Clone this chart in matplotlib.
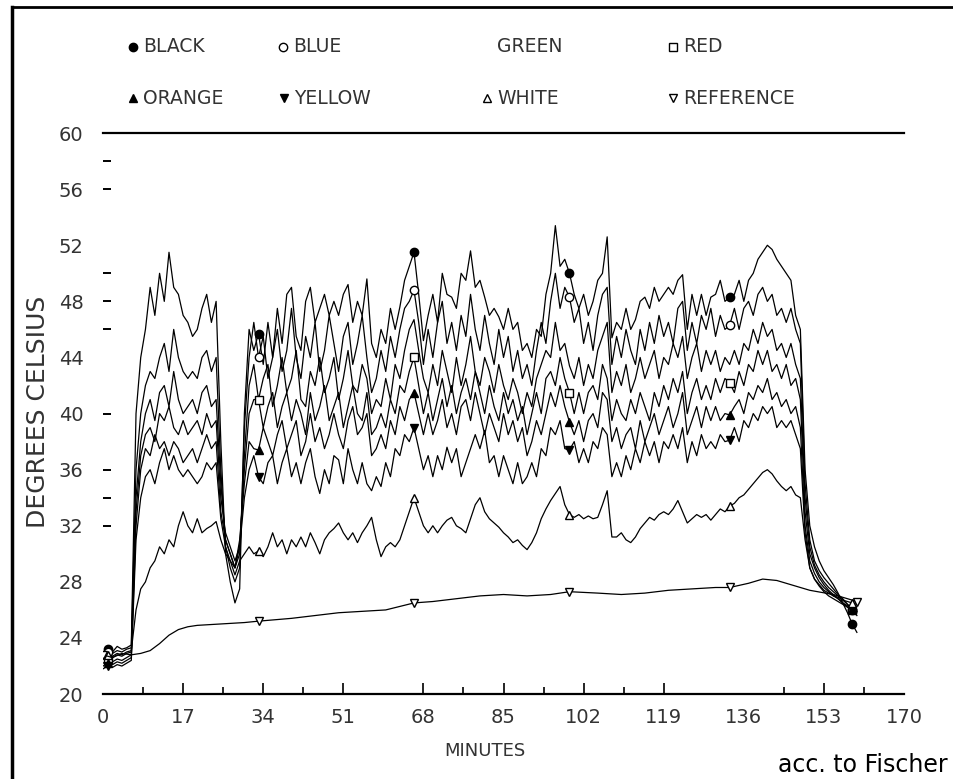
import matplotlib
matplotlib.use('Agg')
import matplotlib.pyplot as plt
from matplotlib.lines import Line2D

# sampling grid, one reading per minute
minutes = list(range(0, 161))

black = [
    23.0, 23.2, 23.0, 23.4, 23.2, 23.3, 23.5, 40.0, 44.0, 46.0,
    49.0, 47.0, 50.0, 48.0, 51.5, 49.0, 48.5, 47.0, 46.5, 45.5,
    46.0, 47.5, 48.5, 46.5, 48.0, 38.0, 30.0, 28.0, 26.5, 27.5,
    40.0, 46.0, 44.5, 45.7, 43.5, 46.5, 44.0, 47.5, 45.0, 48.5,
    49.0, 45.5, 44.5, 48.0, 49.0, 46.5, 47.5, 48.5, 47.0, 48.0,
    47.0, 48.5, 49.2, 46.5, 48.0, 47.0, 49.6, 45.0, 44.0, 46.0,
    45.0, 47.5, 46.0, 47.6, 49.5, 50.5, 51.5, 48.5, 45.2, 47.0,
    48.5, 46.5, 50.0, 48.5, 48.3, 47.5, 50.0, 49.5, 51.6, 49.0,
    49.5, 48.3, 47.0, 47.5, 46.9, 46.0, 47.5, 46.0, 46.5, 44.5,
    45.0, 44.0, 46.0, 45.5, 48.5, 50.0, 53.4, 50.5, 51.0, 50.0,
    48.5, 47.5, 48.5, 47.0, 48.0, 49.5, 50.0, 52.6, 45.4, 46.5,
    46.0, 47.5, 46.0, 46.7, 48.0, 48.3, 47.5, 49.0, 48.0, 48.5,
    49.0, 48.5, 49.5, 49.9, 46.0, 48.5, 47.0, 48.5, 47.0, 48.3,
    48.5, 49.5, 48.0, 48.3, 48.5, 49.5, 48.0, 49.5, 50.0, 51.0,
    51.5, 52.0, 51.7, 51.0, 50.5, 50.0, 49.5, 47.0, 46.0, 36.0,
    32.0, 30.5, 29.5, 28.8, 28.3, 27.8, 27.2, 26.5, 25.8, 25.0,
    24.4,
]

blue = [
    22.8, 23.0, 22.9, 23.1, 23.0, 23.2, 23.3, 36.0, 40.0, 42.0,
    43.0, 42.5, 44.0, 45.0, 43.0, 46.0, 44.0, 43.0, 42.5, 43.0,
    42.5, 44.0, 44.5, 43.0, 44.0, 36.0, 30.5, 29.0, 28.0, 29.0,
    39.0, 44.0, 46.5, 44.0, 45.5, 42.5, 44.0, 46.0, 43.0, 44.5,
    47.5, 44.0, 42.5, 45.5, 44.0, 46.5, 43.0, 44.5, 47.0, 45.0,
    43.0, 45.5, 46.5, 43.5, 45.0, 47.0, 44.0, 41.5, 42.5, 44.5,
    43.0, 45.5, 44.0, 46.0, 47.5, 48.0, 48.8, 46.5, 43.5, 46.0,
    44.0, 46.5, 48.0, 45.0, 46.5, 44.5, 47.0, 45.5, 48.5, 46.0,
    44.5, 47.0, 45.0, 43.5, 46.0, 44.0, 45.5, 43.0, 44.5, 42.5,
    43.5, 42.0, 44.5, 46.5, 45.0, 48.0, 50.0, 47.5, 49.0, 48.3,
    46.5, 47.5, 45.0, 46.5, 44.5, 47.0, 48.5, 49.0, 43.5, 45.5,
    44.0, 46.0, 44.5, 43.5, 46.0, 44.5, 46.5, 45.0, 47.0, 45.5,
    46.5, 45.0, 47.5, 48.0, 44.5, 46.5, 45.0, 47.0, 46.0, 47.5,
    45.5, 47.0, 46.0, 46.3, 47.5, 46.0, 47.5, 48.0, 47.0, 48.5,
    49.0, 48.0, 48.5, 47.0, 47.5, 46.5, 47.5, 46.0, 45.0, 35.0,
    31.0, 29.5, 28.8, 28.3, 27.9, 27.5, 27.1, 26.8, 26.4, 26.0,
    25.6,
]

green = [
    22.5, 22.7, 22.6, 22.8, 22.7, 22.9, 23.0, 34.0, 38.0, 40.0,
    41.0, 39.5, 41.5, 42.0, 40.5, 43.0, 41.0, 40.0, 40.5, 41.0,
    40.0, 41.5, 42.0, 40.5, 41.0, 35.0, 31.0, 30.0, 29.0, 30.0,
    37.0, 42.0, 43.5, 41.0, 42.5, 43.5, 40.5, 42.0, 44.0, 41.5,
    42.5, 44.5, 41.0, 40.5, 43.0, 42.0, 44.0, 41.5, 42.5, 44.0,
    41.0, 42.5, 44.5, 42.0, 41.5, 43.5, 42.5, 40.0, 41.0, 40.5,
    42.5, 41.0, 43.5, 42.5, 44.5, 46.0, 46.7, 44.5, 42.5, 41.5,
    43.5, 42.0, 44.5, 43.0, 41.5, 44.0, 42.0, 43.5, 45.5, 43.0,
    42.0, 44.0, 43.0, 41.5, 43.5, 42.0, 41.0, 42.5, 41.5, 40.0,
    41.5, 40.5, 42.5, 43.5, 44.5, 44.0, 46.5, 44.5, 45.0, 43.4,
    42.5, 44.0, 42.0, 43.5, 42.5, 44.5, 45.5, 46.5, 41.5, 43.0,
    42.0, 43.5, 41.5, 42.5, 44.0, 42.5, 43.5, 44.5, 42.5, 44.0,
    43.5, 45.0, 44.0, 45.5, 42.5, 44.0, 45.0, 43.0, 44.5, 43.5,
    44.5, 43.0, 44.0, 43.5, 44.5, 43.5, 45.0, 44.5, 46.0, 45.0,
    46.5, 45.5, 46.0, 44.5, 45.0, 44.0, 45.0, 43.5, 42.5, 34.0,
    30.5, 29.2, 28.5, 28.0, 27.6, 27.3, 27.0, 26.7, 26.4, 26.1,
    25.9,
]

red = [
    22.2, 22.4, 22.3, 22.5, 22.4, 22.6, 22.8, 33.0, 37.0, 38.5,
    39.0, 38.0, 40.0, 39.5, 40.5, 39.0, 38.5, 39.5, 38.5, 39.0,
    39.5, 38.5, 40.0, 39.0, 39.5, 34.0, 31.5, 30.5, 29.5, 30.5,
    36.0, 40.0, 41.0, 41.0, 39.0, 40.5, 41.5, 39.0, 40.5, 41.5,
    39.5, 41.0, 40.0, 38.5, 41.5, 39.5, 40.5, 42.0, 39.5, 40.5,
    41.5, 39.0, 40.5, 42.0, 40.0, 39.5, 41.5, 38.5, 39.0, 40.0,
    39.0, 41.0, 40.0, 42.0, 41.5, 43.0, 44.0, 42.0, 40.0, 41.5,
    39.5, 41.0, 42.5, 40.5, 42.0, 40.0, 41.5, 42.5, 41.0, 43.0,
    41.5, 40.0, 42.0, 40.5, 39.5, 41.5, 40.0, 41.0, 39.5, 40.5,
    38.5, 40.0, 41.5, 40.0, 42.5, 43.0, 42.0, 44.0, 42.5, 41.5,
    40.0, 41.5, 40.0, 41.5, 42.0, 41.0, 43.5, 42.5, 39.5, 41.0,
    40.0, 39.5, 41.0, 40.0, 41.5, 40.5, 39.5, 41.5, 40.5, 42.0,
    41.0, 42.5, 41.5, 43.0, 40.0, 41.5, 42.5, 41.0, 42.0, 41.0,
    42.5, 41.5, 42.5, 42.2, 41.5, 43.0, 42.0, 43.5, 43.0, 44.5,
    43.5, 44.5, 43.0, 43.5, 42.5, 43.5, 42.0, 42.5, 41.0, 33.0,
    30.0, 29.0, 28.3, 27.8, 27.4, 27.1, 26.8, 26.5, 26.2, 26.0,
    25.8,
]

orange = [
    22.0, 22.2, 22.1, 22.3, 22.2, 22.4, 22.6, 32.0, 36.0, 37.5,
    37.0, 38.5, 37.5, 38.0, 37.0, 38.0, 37.5, 36.5, 37.0, 37.5,
    36.5, 37.5, 38.5, 37.5, 38.0, 33.0, 31.0, 30.0, 29.0, 31.0,
    35.0, 38.0, 37.5, 37.4, 39.0, 38.0, 37.0, 38.5, 39.5, 37.5,
    38.5, 39.5, 37.0, 38.0, 40.0, 38.0, 39.0, 37.5, 38.5, 40.0,
    38.5, 37.5, 39.5, 40.5, 38.5, 39.0, 40.0, 37.0, 37.5, 38.5,
    37.5, 39.5, 38.5, 40.5, 39.5, 41.0, 41.5, 40.0, 38.5, 40.0,
    38.5, 39.5, 41.0, 39.0, 40.0, 38.5, 40.5, 41.0, 39.5, 41.5,
    40.0, 38.5, 40.0, 39.0, 38.0, 40.0, 38.5, 39.5, 38.0, 39.0,
    37.0, 38.0, 39.5, 38.5, 40.0, 41.5, 40.5, 42.0, 40.5, 39.4,
    38.5, 39.5, 38.0, 39.5, 40.0, 39.0, 41.5, 41.0, 38.0, 39.0,
    37.5, 38.5, 39.0, 37.5, 39.5, 38.0, 39.0, 40.0, 38.5, 39.5,
    40.5, 39.0, 40.0, 41.5, 38.5, 39.5, 40.5, 39.0, 40.5, 39.5,
    40.5, 39.5, 40.0, 39.9, 40.5, 41.0, 40.0, 41.5, 41.0, 42.0,
    41.5, 42.5, 41.0, 41.5, 40.5, 41.0, 40.0, 40.5, 39.0, 32.0,
    29.5, 28.6, 28.0, 27.6, 27.3, 27.0, 26.8, 26.5, 26.3, 26.1,
    26.0,
]

yellow = [
    21.8, 22.0, 21.9, 22.1, 22.0, 22.2, 22.4, 31.0, 34.0, 35.5,
    36.0, 35.0, 36.5, 37.5, 36.0, 37.0, 36.0, 35.5, 36.0, 35.5,
    35.0, 35.5, 36.5, 36.0, 36.5, 32.5, 30.5, 29.5, 29.0, 30.5,
    34.0, 36.0, 37.0, 35.5, 35.0, 36.5, 37.0, 35.0, 36.5, 37.5,
    35.5, 36.5, 35.0, 36.5, 37.5, 35.5, 34.3, 36.0, 35.0, 37.0,
    36.7, 35.0, 37.5, 36.0, 35.0, 36.5, 35.0, 34.5, 35.5, 34.8,
    36.5, 35.5, 37.5, 37.0, 38.5, 38.0, 39.0, 37.5, 36.0, 37.0,
    35.5, 37.0, 36.0, 37.6, 36.5, 37.5, 35.5, 36.5, 37.5, 38.5,
    37.5, 38.8, 36.5, 37.0, 35.5, 37.0, 36.0, 35.0, 36.5, 35.0,
    35.5, 36.5, 35.5, 37.5, 37.0, 39.0, 38.5, 39.5, 37.5, 37.4,
    38.0, 36.5, 37.5, 36.5, 38.0, 37.5, 39.0, 38.5, 35.5, 36.5,
    35.5, 37.0, 36.0, 37.5, 36.5, 38.0, 37.0, 38.0, 36.5, 38.0,
    37.5, 38.5, 37.5, 39.0, 36.5, 38.0, 37.0, 38.5, 37.5, 38.0,
    37.5, 38.5, 38.0, 38.1, 39.0, 38.0, 39.5, 39.0, 40.0, 39.5,
    40.5, 40.0, 40.5, 39.0, 39.5, 39.0, 39.5, 38.5, 37.5, 31.5,
    29.0, 28.2, 27.7, 27.3, 27.0, 26.8, 26.6, 26.4, 26.2, 26.0,
    25.9,
]

white = [
    22.6, 22.8, 22.7, 22.9, 22.8, 23.0, 23.1, 26.0, 27.5, 28.0,
    29.0, 29.5, 30.5, 30.0, 31.0, 30.5, 32.0, 33.0, 32.0, 31.5,
    32.5, 31.5, 31.8, 32.0, 32.3, 31.0, 30.0, 29.5, 28.5, 29.5,
    30.0, 30.5, 30.0, 30.2, 29.8, 30.5, 31.5, 30.5, 31.0, 30.0,
    31.0, 30.5, 31.2, 30.5, 31.5, 30.8, 30.0, 31.0, 31.5, 31.8,
    32.2, 31.5, 31.0, 31.5, 30.8, 31.5, 32.0, 32.6, 31.0, 29.8,
    30.5, 30.8, 30.5, 31.0, 32.0, 33.0, 34.0, 33.0, 32.0, 31.5,
    32.0, 31.5, 32.0, 32.4, 32.6, 32.0, 31.8, 31.5, 32.5, 33.5,
    34.0, 33.0, 32.5, 32.2, 31.9, 31.5, 31.2, 30.8, 31.0, 30.6,
    30.3, 30.8, 31.5, 32.5, 33.2, 33.8, 34.3, 34.8, 33.5, 32.8,
    32.6, 32.8, 32.5, 32.7, 32.5, 32.6, 33.5, 34.5, 31.2, 31.2,
    31.5, 31.0, 30.8, 31.2, 31.8, 32.2, 32.6, 32.4, 32.8, 33.0,
    32.8, 33.2, 33.8, 33.0, 32.2, 32.5, 32.8, 32.6, 32.8, 32.4,
    32.8, 33.2, 33.0, 33.4, 33.6, 34.0, 34.2, 34.6, 35.0, 35.4,
    35.8, 36.0, 35.7, 35.2, 34.8, 34.5, 34.8, 34.2, 34.0, 31.0,
    29.0, 28.2, 27.8, 27.4, 27.2, 27.0, 26.9, 26.7, 26.6, 26.5,
    26.4,
]

# reference probe is smooth, read at fewer points
ref_minutes = [0, 2, 4, 6, 8, 10, 12, 14, 16, 18, 20, 25, 30, 33, 40, 45,
               50, 55, 60, 66, 70, 75, 80, 85, 90, 95, 99, 105, 110, 115,
               120, 125, 130, 133, 137, 140, 143, 146, 150, 155, 160]
reference = [22.8, 22.6, 22.9, 22.8, 22.9, 23.1, 23.6, 24.2, 24.6, 24.8,
             24.9, 25.0, 25.1, 25.2, 25.4, 25.6, 25.8, 25.9, 26.0, 26.5,
             26.6, 26.8, 27.0, 27.1, 27.0, 27.1, 27.3, 27.2, 27.1, 27.2,
             27.4, 27.5, 27.6, 27.6, 27.9, 28.2, 28.1, 27.8, 27.4, 27.1,
             26.6]

mark_at = [1, 33, 66, 99, 133, 159]
ref_mark_at = [ref_minutes.index(m) for m in [0, 33, 66, 99, 133, 160]]

names = ['BLACK', 'BLUE', 'GREEN', 'RED', 'ORANGE', 'YELLOW', 'WHITE', 'REFERENCE']
markers = ['o', 'o', None, 's', '^', 'v', '^', 'v']
fills = ['black', 'white', 'white', 'white', 'black', 'black', 'white', 'white']

TXT = '#333333'

fig = plt.figure(figsize=(9.54, 7.79), dpi=100)
ax = fig.add_axes([0.108, 0.109, 0.8396, 0.7202])

all_series = [black, blue, green, red, orange, yellow, white]
for vals, mk, fc in zip(all_series, markers[:7], fills[:7]):
    ax.plot(minutes, vals, color='black', lw=0.9, marker=mk, markevery=mark_at,
            ms=6, mfc=fc, mec='black', mew=1.0)
ax.plot(ref_minutes, reference, color='black', lw=0.9, marker='v',
        markevery=ref_mark_at, ms=6, mfc='white', mec='black', mew=1.0)

ax.set_xlim(0, 170)
ax.set_ylim(20, 60)
for s in ['left', 'right']:
    ax.spines[s].set_visible(False)
for s in ['top', 'bottom']:
    ax.spines[s].set_linewidth(1.6)

# x ticks: labels every 17 min, small marks in between
ax.set_xticks(range(0, 171, 17))
ax.set_xticks([8.5, 25.5, 42.5, 76.5, 93.5, 110.5, 144.5, 161.5], minor=True)
ax.tick_params(axis='x', which='major', direction='in', length=8, width=1.2,
               pad=10, labelsize=14, labelcolor=TXT)
ax.tick_params(axis='x', which='minor', direction='in', length=5, width=1.2)
for tk, loc in zip(ax.xaxis.get_major_ticks(), range(0, 171, 17)):
    if loc in (0, 136, 170):
        tk.tick1line.set_visible(False)

# y ticks
ax.set_yticks(range(20, 61, 4))
ax.set_yticks([34, 46, 50, 58], minor=True)
ax.tick_params(axis='y', which='major', direction='in', length=6, width=1.4,
               pad=14, labelsize=14, labelcolor=TXT)
ax.tick_params(axis='y', which='minor', direction='in', length=6, width=1.4)
for tk, loc in zip(ax.yaxis.get_major_ticks(), range(20, 61, 4)):
    if loc in (20, 24, 28, 44, 52, 60):
        tk.tick1line.set_visible(False)

fig.text(38 / 954, 1 - 412 / 779, 'DEGREES CELSIUS', rotation=90,
         ha='center', va='center', fontsize=18, color=TXT)
fig.text(485 / 954, 1 - 751 / 779, 'MINUTES', ha='center', va='center',
         fontsize=13, color=TXT)

# legend block above the plot
leg_marker_x = [133, 283, None, 673, 133, 284, 487, 673]
leg_text_x = [143, 293, 497, 683, 143, 294, 497, 683]
leg_y = [47, 47, 47, 47, 98, 98, 98, 98]
for name, mk, fc, mx, tx, ly in zip(names, markers, fills, leg_marker_x,
                                    leg_text_x, leg_y):
    yf = 1 - ly / 779
    if mk is not None:
        fig.add_artist(Line2D([mx / 954], [yf], transform=fig.transFigure,
                              marker=mk, ms=6, mfc=fc, mec='black', mew=1.0,
                              ls='none'))
    fig.text(tx / 954, yf, name, ha='left', va='center', fontsize=13.5, color=TXT)

fig.text(948 / 954, 1 - 765 / 779, 'acc. to Fischer', ha='right', va='center',
         fontsize=17, color='black')

# page frame (left and top edges)
fig.add_artist(Line2D([12 / 954, 12 / 954], [0, 1 - 7 / 779],
                      transform=fig.transFigure, color='black', lw=2.5))
fig.add_artist(Line2D([12 / 954, 1], [1 - 7 / 779, 1 - 7 / 779],
                      transform=fig.transFigure, color='black', lw=2.0))

plt.savefig('out.png', dpi=100)
